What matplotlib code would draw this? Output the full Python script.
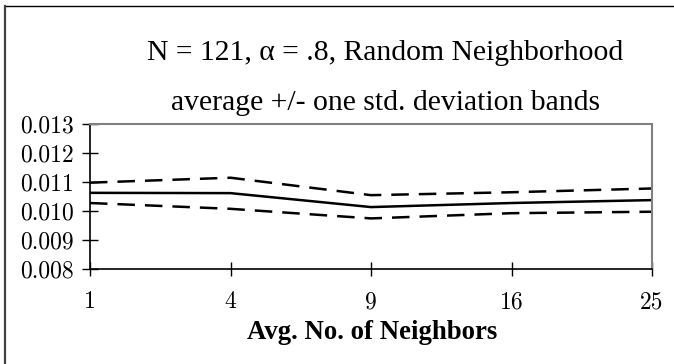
import matplotlib.pyplot as plt
from matplotlib.lines import Line2D

# average and +/- one std. deviation bands
neighbors = ['1', '4', '9', '16', '25']
avg = [0.01063, 0.01062, 0.01014, 0.01028, 0.01038]
upper = [0.01098, 0.01115, 0.01055, 0.01065, 0.01078]
lower = [0.01028, 0.01008, 0.00975, 0.00993, 0.00998]

fig = plt.figure(figsize=(6.74, 3.64), dpi=100)
ax = fig.add_axes([0.1335, 0.2602, 0.834, 0.3993])

x = range(len(neighbors))
ax.plot(x, avg, color='black', lw=1.8)
ax.plot(x, upper, color='black', lw=1.8, linestyle=(0, (7, 4)))
ax.plot(x, lower, color='black', lw=1.8, linestyle=(0, (7, 4)))

ax.set_xlim(0, len(neighbors) - 1)
ax.set_ylim(0.008, 0.013)
ax.set_xticks(list(x))
ax.set_xticklabels(neighbors)
ax.set_yticks([0.008, 0.009, 0.010, 0.011, 0.012, 0.013])
ax.set_yticklabels(['0.008', '0.009', '0.010', '0.011', '0.012', '0.013'])

for lab in ax.get_xticklabels() + ax.get_yticklabels():
    lab.set_family('cmr10')
    lab.set_fontsize(17)

ax.tick_params(axis='y', direction='inout', length=11.5, width=1.0, pad=6)
ax.tick_params(axis='x', direction='inout', length=9.5, width=1.0, pad=11)

for s in ['left', 'bottom']:
    ax.spines[s].set_color('black')
    ax.spines[s].set_linewidth(1.2)
for s in ['top', 'right']:
    ax.spines[s].set_color('#808080')
    ax.spines[s].set_linewidth(1.5)

fig.text(0.571, 0.835, 'N = 121, α = .8, Random Neighborhood',
         ha='center', va='baseline', family='Liberation Serif', fontsize=21.3)
fig.text(0.572, 0.698, 'average +/- one std. deviation bands',
         ha='center', va='baseline', family='Liberation Serif', fontsize=21.3)
fig.text(0.5527, 0.069, 'Avg. No. of Neighbors', ha='center', va='baseline',
         family='Liberation Serif', fontweight='bold', fontsize=19.3)

# outer frame: top and left edges only
fig.add_artist(Line2D([5 / 674, 1], [1 - 6 / 364] * 2, color='black', lw=1.0))
fig.add_artist(Line2D([5 / 674] * 2, [0, 1 - 6 / 364], color='#404040', lw=1.6))

fig.savefig('out.png', dpi=100)
